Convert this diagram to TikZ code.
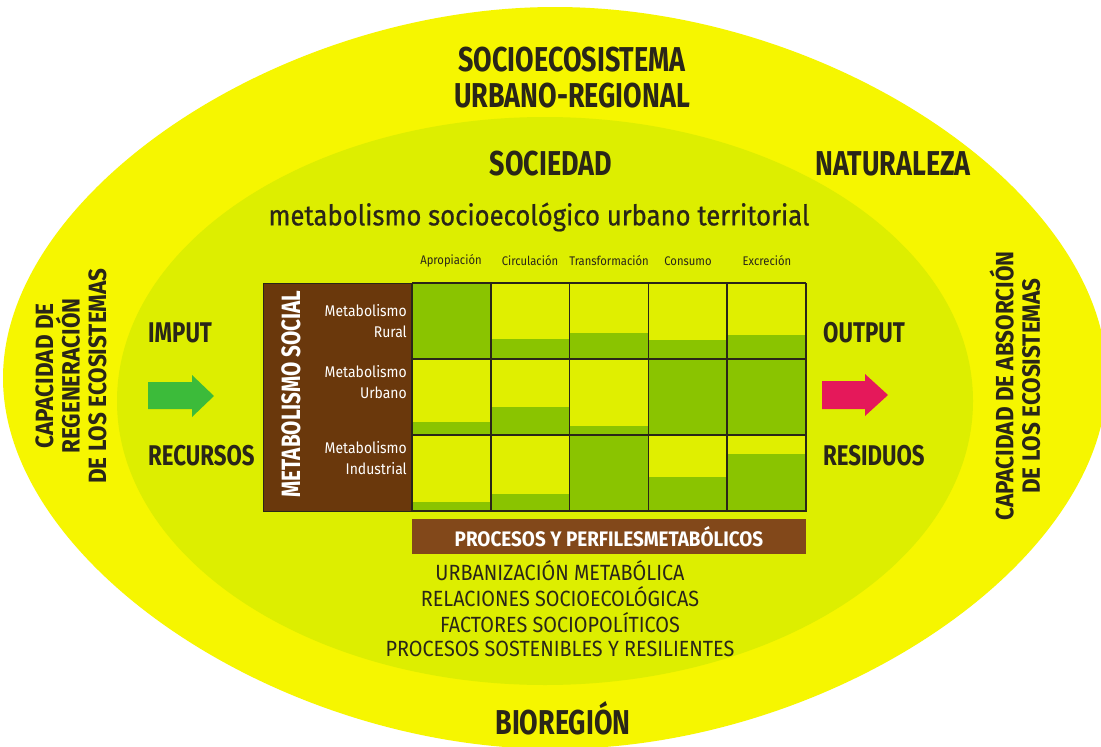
\documentclass[tikz,border=0pt]{standalone}
\usepackage{fontspec}
\setmainfont{Fira Sans}
\newfontfamily\cf[FakeStretch=0.78]{Fira Sans}
\newfontfamily\rf[FakeStretch=0.9]{Fira Sans}
\newfontfamily\mf[FakeStretch=0.9, FakeBold=0.7]{Fira Sans}
\definecolor{outerY}{HTML}{F6F600}
\definecolor{innerY}{HTML}{DDEE00}
\definecolor{cellL}{HTML}{E0EF00}
\definecolor{cellG}{HTML}{8AC400}
\definecolor{brownD}{HTML}{6A380C}
\definecolor{brownB}{HTML}{82481A}
\definecolor{txt}{HTML}{2A2618}
\definecolor{arrG}{HTML}{3CBB3A}
\definecolor{arrR}{HTML}{E5185A}
\tikzset{
  title/.style={text=txt, font=\cf\bfseries\fontsize{34.5}{36}\selectfont, inner sep=0pt},
  side/.style={text=txt, font=\cf\bfseries\fontsize{28.5}{30}\selectfont, inner sep=0pt},
  vert/.style={text=txt, font=\rf\bfseries\fontsize{25}{26.5}\selectfont, inner sep=0pt, rotate=90, align=center},
  colhead/.style={text=txt, font=\rf\fontsize{12.5}{14}\selectfont, inner sep=0pt},
  rowlab/.style={text=white, font=\rf\fontsize{15.5}{21}\selectfont, inner sep=0pt, align=right, anchor=east},
  listtxt/.style={text=txt, font=\rf\fontsize{22}{24}\selectfont, inner sep=0pt},
  gridline/.style={draw=txt, line width=1.5pt},
}
\begin{document}
\begin{tikzpicture}[x=1pt,y=-1pt]
\useasboundingbox (0,0) rectangle (1101,747);
\fill[white] (0,0) rectangle (1101,747);
% outer region
\fill[outerY] (3,378) .. controls (3,192.5) and (280,7) .. (555,7)
  .. controls (830,7) and (1107,192.5) .. (1107,378)
  .. controls (1107,563.5) and (830,749) .. (555,749)
  .. controls (280,749) and (3,563.5) .. (3,378) -- cycle;
% inner region
\fill[innerY] (545,401) ellipse [x radius=428, y radius=284];

% titles
\node[title] (t1) at (572,60) {SOCIOECOSISTEMA};
\node[title] (t2) at (572,96) {URBANO-REGIONAL};
\node[title] (soc) at (551,164) {SOCIEDAD};
\node[title] (nat) at (893,164) {NATURALEZA};
\node[text=txt, font=\mf\fontsize{28.5}{32}\selectfont, inner sep=0pt] (met) at (539,217) {metabolismo socioecológico urbano territorial};

% column headers
\node[colhead] (h1) at (451,261) {Apropiación};
\node[colhead] (h2) at (530,261) {Circulación};
\node[colhead] (h3) at (609,261) {Transformación};
\node[colhead] (h4) at (688,261) {Consumo};
\node[colhead] (h5) at (767,261) {Excreción};

% brown box
\fill[brownD] (263,283) rectangle (412,511);
\node[text=white, font=\cf\bfseries\fontsize{26.5}{28}\selectfont, inner sep=0pt, rotate=90] (ms) at (291,394) {METABOLISMO SOCIAL};
\node[rowlab] (r1) at (407,321) {Metabolismo\\Rural};
\node[rowlab] (r2) at (407,382) {Metabolismo\\Urbano};
\node[rowlab] (r3) at (407,458) {Metabolismo\\Industrial};

% cells
\foreach \i/\j/\f in {0/0/1, 1/0/0.26, 2/0/0.34, 3/0/0.25, 4/0/0.32,
                      0/1/0.17, 1/1/0.37, 2/1/0.12, 3/1/1, 4/1/1,
                      0/2/0.12, 1/2/0.22, 2/2/1, 3/2/0.45, 4/2/0.75}{
  \pgfmathsetmacro\xa{412+78.8*\i}
  \pgfmathsetmacro\xb{412+78.8*(\i+1)}
  \pgfmathsetmacro\ya{283+76*\j}
  \pgfmathsetmacro\yb{283+76*(\j+1)}
  \pgfmathsetmacro\yg{\yb-76*\f}
  \fill[cellL] (\xa,\ya) rectangle (\xb,\yb);
  \fill[cellG] (\xa,\yg) rectangle (\xb,\yb);
}
\foreach \i in {0,...,5}{\draw[gridline] ({412+78.8*\i},283) -- ({412+78.8*\i},511);}
\foreach \j in {0,...,3}{\draw[gridline] (412,{283+76*\j}) -- (806,{283+76*\j});}
\draw[draw=txt, line width=1pt] (263,283) rectangle (806,511);

% bar
\fill[brownB] (412,519) rectangle (806,554);
\node[text=white, font=\rf\bfseries\fontsize{21}{22}\selectfont, inner sep=0pt] (bar) at (609,537) {PROCESOS Y PERFILESMETABÓLICOS};
\node[listtxt] (l1) at (560,571) {URBANIZACIÓN METABÓLICA};
\node[listtxt] (l2) at (560,597) {RELACIONES SOCIOECOLÓGICAS};
\node[listtxt] (l3) at (560,623) {FACTORES SOCIOPOLÍTICOS};
\node[listtxt] (l4) at (560,649) {PROCESOS SOSTENIBLES Y RESILIENTES};

\node[title] (bio) at (563,718) {BIOREGIÓN};

% side labels
\node[side, anchor=west] (imp) at (148,333) {IMPUT};
\node[side, anchor=west] (rec) at (148,456) {RECURSOS};
\node[side, anchor=west] (out) at (823,333) {OUTPUT};
\node[side, anchor=west] (res) at (823,456) {RESIDUOS};

% arrows
\fill[arrG] (148,382) -- (192,382) -- (192,375) -- (214,396) -- (192,417) -- (192,409) -- (148,409) -- cycle;
\fill[arrR] (822,381) -- (865,381) -- (865,374) -- (888,395) -- (865,416) -- (865,409) -- (822,409) -- cycle;

% vertical texts
\node[vert] (capL) at (71,376) {CAPACIDAD DE\\REGENERACIÓN\\DE LOS ECOSISTEMAS};
\node[vert] (capR) at (1015,386) {CAPACIDAD DE ABSORCIÓN\\DE LOS ECOSISTEMAS};
\end{tikzpicture}
\end{document}
